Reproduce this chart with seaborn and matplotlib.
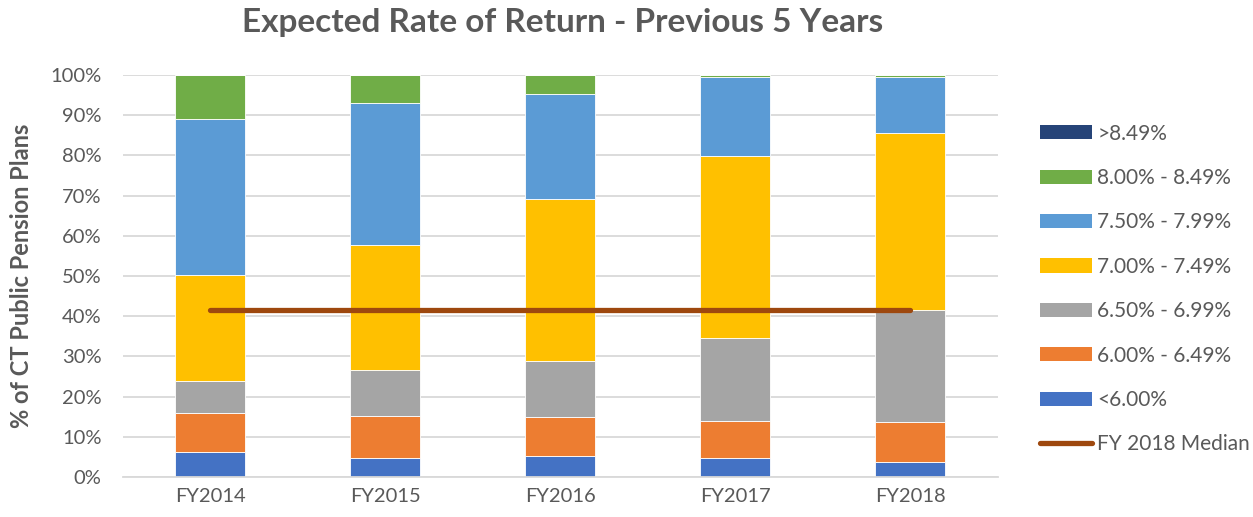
import matplotlib
matplotlib.use("Agg")
import matplotlib.pyplot as plt
import seaborn as sns
import pandas as pd
from matplotlib.patches import Patch
from matplotlib.lines import Line2D

# Data (percent of plans per expected-return band)
years = ["FY2014", "FY2015", "FY2016", "FY2017", "FY2018"]
below_600 = [6.2, 4.7, 5.2, 4.6, 3.8]
r600_649 = [9.6, 10.5, 9.6, 9.3, 9.9]
r650_699 = [8.1, 11.3, 14.1, 20.7, 27.8]
r700_749 = [26.3, 31.2, 40.2, 45.2, 44.0]
r750_799 = [38.8, 35.4, 26.1, 19.6, 13.9]
r800_849 = [11.0, 6.9, 4.8, 0.6, 0.6]
above_849 = [0.0, 0.0, 0.0, 0.0, 0.0]
median_2018 = 41.5

bands = ["<6.00%", "6.00% - 6.49%", "6.50% - 6.99%", "7.00% - 7.49%",
         "7.50% - 7.99%", "8.00% - 8.49%", ">8.49%"]
series = [below_600, r600_649, r650_699, r700_749, r750_799, r800_849, above_849]
colors = ["#4472C4", "#ED7D31", "#A5A5A5", "#FFC000", "#5B9BD5", "#70AD47", "#264478"]
median_color = "#9E480E"
text_color = "#595959"

sns.set_theme(style="white")
plt.rcParams["font.family"] = ["Lato", "DejaVu Sans"]

fig = plt.figure(figsize=(12.53, 5.17), dpi=100)
ax = fig.add_axes([0.0978, 0.0774, 0.6983, 0.7776])

# stacked bars, one layer per band
base = [0.0] * len(years)
for name, vals, c in zip(bands, series, colors):
    df = pd.DataFrame({"year": years, "pct": vals})
    sns.barplot(data=df, x="year", y="pct", color=c, width=0.4, bottom=base,
                ax=ax, saturation=1, edgecolor="white", linewidth=0.6)
    base = [b + v for b, v in zip(base, vals)]

# FY 2018 median line across the categories
sns.lineplot(x=[0, len(years) - 1], y=[median_2018, median_2018], ax=ax,
             color=median_color, linewidth=3.8, solid_capstyle="round")

ax.set_xlim(-0.5, len(years) - 0.5)
ax.set_ylim(0, 100)
ax.set_yticks(range(0, 101, 10))
ax.set_yticklabels([f"{t}%" for t in range(0, 101, 10)])
ax.yaxis.grid(True, color="#D9D9D9", linewidth=1.3)
ax.set_axisbelow(True)
for s in ["top", "right", "left"]:
    ax.spines[s].set_visible(False)
ax.spines["bottom"].set_color("#D9D9D9")
ax.spines["bottom"].set_linewidth(1.3)
ax.tick_params(axis="both", length=0, labelsize=14.5, colors=text_color, pad=8)
ax.tick_params(axis="y", pad=15)
ax.set_xlabel("")
ax.set_ylabel("% of CT Public Pension Plans", fontsize=17, fontweight="bold",
              color=text_color)
ax.yaxis.set_label_coords(-0.102, 0.5)

fig.text(0.449, 0.957, "Expected Rate of Return - Previous 5 Years",
         ha="center", va="center", fontsize=24, fontweight="bold", color=text_color)

handles = [Patch(facecolor=c, edgecolor="none") for c in colors[::-1]]
handles.append(Line2D([0], [0], color=median_color, linewidth=3.8,
                      solid_capstyle="round"))
labels = bands[::-1] + ["FY 2018 Median"]
leg = fig.legend(handles, labels, loc="upper left", bbox_to_anchor=(0.815, 0.797),
                 frameon=False, fontsize=15, handlelength=2.5, handleheight=0.67,
                 handletextpad=0.25, labelspacing=1.17)
for t in leg.get_texts():
    t.set_color(text_color)

fig.savefig("out.png", dpi=100)
